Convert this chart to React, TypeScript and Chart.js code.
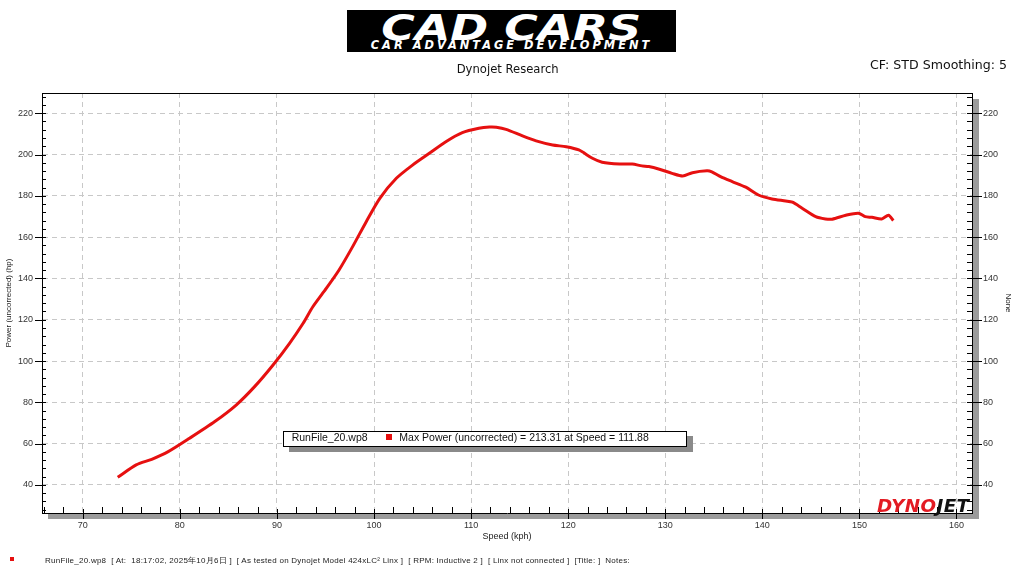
import React, { useEffect, useRef } from "react";
import { Chart, registerables } from "chart.js";

Chart.register(...registerables);

const SPEED_KPH = [
  73.6, 75.5, 77.1, 78.8, 81.0, 83.6, 85.8, 87.7, 89.6, 91.3, 92.7, 93.7, 95.1, 96.4,
  97.8, 99.2, 100.6, 102.3, 104.0, 105.7, 107.4, 109.1, 110.8, 111.9, 112.6, 113.6,
  115.3, 116.7, 118.4, 119.8, 121.1, 122.5, 123.5, 125.3, 126.6, 127.6, 128.3, 129.4,
  130.7, 131.8, 132.8, 134.3, 134.8, 135.7, 136.9, 138.3, 139.6, 141.0, 142.4, 143.1,
  144.1, 145.5, 146.5, 147.2, 148.6, 149.9, 150.6, 151.3, 152.3, 153.0, 153.5,
];
const POWER_HP = [
  43.7, 49.7, 52.4, 56.1, 62.6, 70.7, 78.7, 87.6, 98.1, 108.6, 118.3, 126.3, 135.3, 144.1,
  155.4, 167.5, 178.8, 188.5, 195.0, 200.6, 206.2, 210.6, 212.7, 213.3, 213.2, 212.2,
  209.0, 206.6, 204.6, 203.8, 202.2, 198.2, 196.3, 195.4, 195.4, 194.5, 194.2, 192.9,
  190.9, 189.6, 191.2, 192.1, 191.6, 189.3, 186.9, 184.2, 180.4, 178.5, 177.5, 176.9,
  174.0, 169.9, 168.8, 168.7, 170.6, 171.6, 169.9, 169.6, 168.8, 170.6, 168.0,
];
const X_TICKS = [70, 80, 90, 100, 110, 120, 130, 140, 150, 160];
const Y_TICKS = [40, 60, 80, 100, 120, 140, 160, 180, 200, 220];
const X_MIN = 65.8;
const X_MAX = 161.6;
const Y_MIN = 26.4;
const Y_MAX = 229.8;
const X_MINOR_STEP = 2;
const Y_MINOR_STEP = 4;

const RUN_NAME = "RunFile_20.wp8";
const LEGEND_TEXT = "Max Power (uncorrected) = 213.31 at Speed = 111.88";
const FOOTER_TEXT =
  "RunFile_20.wp8  [ At:  18:17:02, 2025年10月6日 ]  [ As tested on Dynojet Model 424xLC² Linx ]  [ RPM: Inductive 2 ]  [ Linx not connected ]  [Title: ]  Notes:";

const RED = "rgb(230,16,16)";
const SANS = '"Liberation Sans", Arial, sans-serif';
const DEJAVU = '"DejaVu Sans", sans-serif';

const framePlugin = {
  id: "dynoFrame",
  beforeDraw(chart: any) {
    const { ctx, chartArea: a } = chart;
    ctx.save();
    ctx.fillStyle = "#fff";
    ctx.fillRect(0, 0, chart.width, chart.height);
    ctx.fillStyle = "#9b9b9b";
    ctx.fillRect(a.left + 6, a.bottom + 1, a.right - a.left + 1, 5);
    ctx.fillRect(a.right + 1, a.top + 6, 6, a.bottom - a.top);
    ctx.restore();
  },
  afterDraw(chart: any) {
    const { ctx, chartArea: a, scales } = chart;
    const xs = scales.x;
    const ys = scales.y;
    ctx.save();
    ctx.strokeStyle = "#000";
    ctx.lineWidth = 1;
    ctx.beginPath();
    ctx.moveTo(a.left, a.top + 0.5);
    ctx.lineTo(a.right, a.top + 0.5);
    const xStart = Math.ceil(X_MIN / X_MINOR_STEP) * X_MINOR_STEP;
    for (let v = xStart; v <= X_MAX; v += X_MINOR_STEP) {
      const px = Math.round(xs.getPixelForValue(v)) + 0.5;
      if (v % 10 === 0) {
        ctx.moveTo(px, a.bottom - 4);
        ctx.lineTo(px, a.bottom + 6);
      } else {
        ctx.moveTo(px, a.bottom - 6);
        ctx.lineTo(px, a.bottom);
      }
    }
    const yStart = Math.ceil(Y_MIN / Y_MINOR_STEP) * Y_MINOR_STEP;
    for (let v = yStart; v <= Y_MAX; v += Y_MINOR_STEP) {
      const py = Math.round(ys.getPixelForValue(v)) + 0.5;
      if (v % 20 === 0) {
        ctx.moveTo(a.left - 7, py);
        ctx.lineTo(a.left + 4, py);
        ctx.moveTo(a.right - 5, py);
        ctx.lineTo(a.right + 10, py);
      } else {
        ctx.moveTo(a.left, py);
        ctx.lineTo(a.left + 4, py);
        ctx.moveTo(a.right - 5, py);
        ctx.lineTo(a.right, py);
      }
    }
    ctx.stroke();
    ctx.restore();
  },
};

function Txt(props: {
  left: number;
  cy: number;
  size: number;
  family?: string;
  color?: string;
  center?: boolean;
  children: any;
  style?: any;
}) {
  const { left, cy, size, family, color, center, children, style } = props;
  return (
    <div
      style={{
        position: "absolute",
        left,
        top: cy - size * 0.6,
        fontSize: size,
        lineHeight: `${size * 1.2}px`,
        fontFamily: family || SANS,
        color: color || "#111",
        whiteSpace: "pre",
        transform: center ? "translateX(-50%)" : undefined,
        ...style,
      }}
    >
      {children}
    </div>
  );
}

export default function App() {
  const canvasRef = useRef<HTMLCanvasElement | null>(null);

  useEffect(() => {
    const canvas = canvasRef.current;
    if (!canvas) return;
    const tickFont = { family: SANS, size: 9 };
    const chart = new Chart(canvas, {
      type: "line",
      data: {
        datasets: [
          {
            label: RUN_NAME,
            data: SPEED_KPH.map((s, i) => ({ x: s, y: POWER_HP[i] })),
            borderColor: RED,
            backgroundColor: RED,
            borderWidth: 3,
            pointRadius: 0,
            tension: 0.25,
            fill: false,
            yAxisID: "y",
          },
        ],
      },
      options: {
        animation: false,
        responsive: false,
        maintainAspectRatio: false,
        layout: { padding: { top: 93, left: 0, right: 0, bottom: 0 } },
        plugins: {
          legend: { display: false },
          tooltip: { enabled: false },
          title: { display: false },
        },
        scales: {
          x: {
            type: "linear",
            position: "bottom",
            min: X_MIN,
            max: X_MAX,
            afterBuildTicks: (s: any) => {
              s.ticks = X_TICKS.map((v) => ({ value: v }));
            },
            afterFit: (s: any) => {
              s.height = 63;
            },
            ticks: {
              padding: 7,
              font: tickFont,
              color: "#333",
              maxRotation: 0,
              autoSkip: false,
              callback: (v: any) => String(v),
            },
            grid: { color: "#c8c8c8", drawTicks: false, lineWidth: 1 },
            border: { display: true, color: "#000", width: 1, dash: [5, 4] },
            title: {
              display: true,
              text: "Speed (kph)",
              font: { family: SANS, size: 9 },
              color: "#222",
              padding: { top: 0, bottom: 34 },
            },
          },
          y: {
            type: "linear",
            position: "left",
            min: Y_MIN,
            max: Y_MAX,
            afterBuildTicks: (s: any) => {
              s.ticks = Y_TICKS.map((v) => ({ value: v }));
            },
            afterFit: (s: any) => {
              s.width = 42;
            },
            ticks: {
              padding: 9,
              font: tickFont,
              color: "#333",
              autoSkip: false,
              callback: (v: any) => String(v),
            },
            grid: { color: "#c8c8c8", drawTicks: false, lineWidth: 1 },
            border: { display: true, color: "#000", width: 1, dash: [5, 4] },
            title: {
              display: true,
              text: "Power (uncorrected) (hp)",
              font: { family: SANS, size: 8 },
              color: "#222",
              padding: { top: 4, bottom: 0 },
            },
          },
          y2: {
            type: "linear",
            position: "right",
            min: Y_MIN,
            max: Y_MAX,
            afterBuildTicks: (s: any) => {
              s.ticks = Y_TICKS.map((v) => ({ value: v }));
            },
            afterFit: (s: any) => {
              s.width = 52;
            },
            ticks: {
              padding: 11,
              font: tickFont,
              color: "#333",
              autoSkip: false,
              callback: (v: any) => String(v),
            },
            grid: { display: false, drawTicks: false },
            border: { display: true, color: "#000", width: 1 },
            title: {
              display: true,
              text: "None",
              font: { family: SANS, size: 8 },
              color: "#222",
              padding: { top: 11, bottom: 0 },
            },
          },
        },
      } as any,
      plugins: [framePlugin],
    });
    return () => chart.destroy();
  }, []);

  return (
    <div
      style={{
        position: "absolute",
        left: 0,
        top: 0,
        width: 1024,
        height: 576,
        background: "#fff",
        overflow: "hidden",
      }}
    >
      <canvas
        ref={canvasRef}
        width={1024}
        height={576}
        style={{ position: "absolute", left: 0, top: 0, width: 1024, height: 576 }}
      />

      {/* CAD CARS banner */}
      <div
        style={{
          position: "absolute",
          left: 347,
          top: 10,
          width: 329,
          height: 42,
          background: "#000",
          overflow: "hidden",
        }}
      >
        <div
          style={{
            position: "absolute",
            left: 0,
            width: 329,
            top: -0.5,
            textAlign: "center",
            fontFamily: DEJAVU,
            fontWeight: 700,
            fontStyle: "italic",
            fontSize: 36,
            lineHeight: "36px",
            color: "#fff",
            whiteSpace: "pre",
          }}
        >
          <span style={{ display: "inline-block", transform: "scaleX(1.27)" }}>CAD CARS</span>
        </div>
        <div
          style={{
            position: "absolute",
            left: 0,
            width: 329,
            top: 29.5,
            textAlign: "center",
            fontFamily: DEJAVU,
            fontWeight: 700,
            fontStyle: "italic",
            fontSize: 11.4,
            lineHeight: "11.4px",
            letterSpacing: 3,
            color: "#fff",
            whiteSpace: "pre",
          }}
        >
          CAR ADVANTAGE DEVELOPMENT
        </div>
      </div>

      <Txt left={507.7} cy={69.8} size={11.6} family={DEJAVU} center>
        Dynojet Research
      </Txt>
      <Txt left={870} cy={65} size={12.6} family={DEJAVU}>
        CF: STD Smoothing: 5
      </Txt>

      {/* legend box */}
      <div
        style={{
          position: "absolute",
          left: 283,
          top: 431,
          width: 402,
          height: 14,
          background: "#fff",
          border: "1px solid #000",
          boxShadow: "6px 5px 0 #8a8a8a",
        }}
      />
      <Txt left={291.7} cy={437.5} size={10.5} color="#111">
        {RUN_NAME}
      </Txt>
      <div
        style={{
          position: "absolute",
          left: 386,
          top: 434,
          width: 6,
          height: 6,
          background: RED,
        }}
      />
      <Txt left={399.3} cy={437.5} size={10.5} color="#111">
        {LEGEND_TEXT}
      </Txt>

      {/* DYNOJET mark */}
      <div
        style={{
          position: "absolute",
          left: 877,
          top: 497,
          fontFamily: DEJAVU,
          fontWeight: 700,
          fontStyle: "italic",
          fontSize: 18.3,
          lineHeight: "18.3px",
          whiteSpace: "pre",
          letterSpacing: 0.4,
        }}
      >
        <span style={{ color: "#e31b23" }}>DYNO</span>
        <span style={{ color: "#111" }}>JET</span>
      </div>

      {/* footer */}
      <div
        style={{
          position: "absolute",
          left: 10,
          top: 557,
          width: 4,
          height: 4,
          background: RED,
        }}
      />
      <Txt left={45} cy={561} size={8} color="#222" style={{ letterSpacing: 0.25 }}>
        {FOOTER_TEXT}
      </Txt>
    </div>
  );
}
